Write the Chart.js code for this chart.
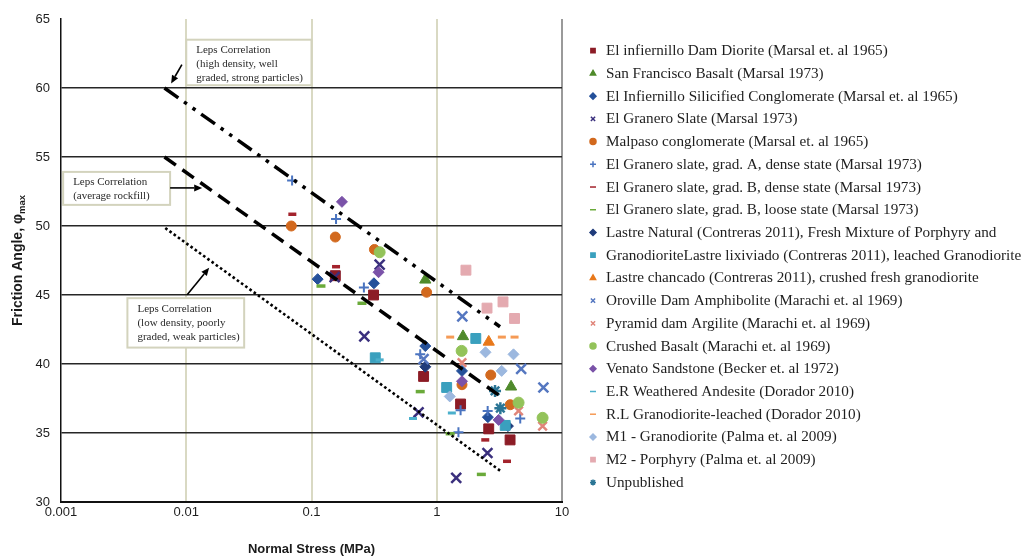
<!DOCTYPE html>
<html>
<head>
<meta charset="utf-8">
<script src="https://cdn.jsdelivr.net/npm/chart.js@4.4.1/dist/chart.umd.min.js"></script>
<style>
  html, body { margin: 0; padding: 0; background: #fff; }
  #wrap { position: relative; width: 1028px; height: 557px; }
</style>
</head>
<body>
<div id="wrap"><canvas id="c" width="1028" height="557"></canvas></div>
<script>
// Axis ticks
const xTickValues = [0.001, 0.01, 0.1, 1, 10];
const yTickValues = [30, 35, 40, 45, 50, 55, 60, 65];

// Test series names
const seriesNames = [
  'El infiernillo Dam Diorite (Marsal et. al 1965)',
  'San Francisco Basalt (Marsal 1973)',
  'El Infiernillo Silicified Conglomerate (Marsal et. al 1965)',
  'El Granero Slate (Marsal 1973)',
  'Malpaso conglomerate (Marsal et. al 1965)',
  'El Granero slate, grad. A, dense state (Marsal 1973)',
  'El Granero slate, grad. B, dense state (Marsal 1973)',
  'El Granero slate, grad. B, loose state (Marsal 1973)',
  'Lastre Natural (Contreras 2011), Fresh Mixture of Porphyry and',
  'GranodioriteLastre lixiviado (Contreras 2011), leached Granodiorite',
  'Lastre chancado (Contreras 2011), crushed fresh granodiorite',
  'Oroville Dam Amphibolite (Marachi et. al 1969)',
  'Pyramid dam Argilite (Marachi et. al 1969)',
  'Crushed Basalt (Marachi et. al 1969)',
  'Venato Sandstone (Becker et. al 1972)',
  'E.R Weathered Andesite (Dorador 2010)',
  'R.L Granodiorite-leached (Dorador 2010)',
  'M1 - Granodiorite (Palma et. al 2009)',
  'M2 - Porphyry (Palma et. al 2009)',
  'Unpublished'
];

// Test results: [normal stress (MPa), peak friction angle (deg)]
const elInfiernilloDiorite   = [[0.155, 46.4], [0.313, 45.0], [0.785, 39.1], [1.55, 37.1], [2.6, 35.3], [3.85, 34.5]];
const sanFranciscoBasalt     = [[0.81, 46.1], [1.62, 42.0], [3.92, 38.35]];
const silicifiedConglomerate = [[0.112, 46.15], [0.315, 45.85], [0.81, 41.3], [1.59, 39.5], [2.56, 36.15]];
const elGraneroSlate         = [[0.153, 46.3], [0.35, 47.2], [0.264, 42.0], [0.716, 36.5], [1.43, 31.75], [2.54, 33.55]];
const malpasoConglomerate    = [[0.069, 50.0], [0.155, 49.2], [0.318, 48.3], [0.83, 45.2], [1.59, 38.5], [2.7, 39.2], [3.86, 37.05]];
const graneroGradADense      = [[0.07, 53.3], [0.157, 50.5], [0.262, 45.55], [0.738, 40.7], [1.55, 36.65], [1.49, 35.05], [2.55, 36.6], [4.64, 36.05]];
const graneroGradBDense      = [[0.0703, 50.85], [0.157, 47.05], [2.44, 34.5], [3.64, 32.95]];
const graneroGradBLoose      = [[0.119, 45.65], [0.253, 44.4], [0.738, 38.0], [1.28, 34.95], [2.27, 32.0]];
const lastreNatural          = [[0.81, 39.8], [3.7, 35.5]];
const lastreLixiviado        = [[0.323, 40.45], [1.2, 38.3], [2.05, 41.85], [3.52, 35.55]];
const lastreChancado         = [[2.6, 41.6]];
const orovilleAmphibolite    = [[0.785, 40.35], [1.6, 43.45], [4.72, 39.65], [7.1, 38.3]];
const pyramidArgilite        = [[1.59, 40.1], [4.5, 36.6], [7.0, 35.5]];
const crushedBasalt          = [[0.35, 48.1], [1.58, 40.95], [4.5, 37.2], [7.0, 36.1]];
const venatoSandstone        = [[0.175, 51.75], [0.343, 46.65], [1.59, 38.75], [3.12, 35.95]];
const erWeatheredAndesite    = [[0.35, 40.3], [0.646, 36.05], [1.32, 36.45]];
const rlGranodioriteLeached  = [[1.28, 41.95], [3.31, 41.95], [4.18, 41.95]];
const m1Granodiorite         = [[1.27, 37.65], [2.45, 40.85], [4.1, 40.7], [3.3, 39.5]];
const m2Porphyry             = [[1.71, 46.8], [2.52, 44.05], [3.38, 44.5], [4.18, 43.3]];
const unpublished            = [[2.92, 38.05], [3.22, 36.8]];

// Leps (1970) correlation bounds: [stress, angle] end points
const lepsHigh    = [[0.0067, 60.0], [3.2, 42.7]];
const lepsAverage = [[0.0067, 55.0], [3.35, 37.55]];
const lepsLow     = [[0.0068, 49.85], [3.32, 32.17]];

const seriesValues = [
  elInfiernilloDiorite, sanFranciscoBasalt, silicifiedConglomerate, elGraneroSlate,
  malpasoConglomerate, graneroGradADense, graneroGradBDense, graneroGradBLoose,
  lastreNatural, lastreLixiviado, lastreChancado, orovilleAmphibolite,
  pyramidArgilite, crushedBasalt, venatoSandstone, erWeatheredAndesite,
  rlGranodioriteLeached, m1Granodiorite, m2Porphyry, unpublished
];

// marker look per series: [style, colour, radius, line width]
const markerStyles = [
  ['rect',     '#8c1c26', 7,   1],
  ['triangle', '#4f8a2b', 6.5, 1],
  ['rectRot',  '#24509a', 5.5, 1],
  ['crossRot', '#3a2f7d', 7,   2.5],
  ['circle',   '#d2691e', 5,   1],
  ['cross',    '#4a74c0', 5,   2],
  ['line',     '#a3232c', 4,   3.5],
  ['line',     '#6aaa3a', 4.5, 3.5],
  ['rectRot',  '#1f3b7a', 5.5, 1],
  ['rect',     '#3aa0be', 7,   1],
  ['triangle', '#e8781a', 6.5, 1],
  ['crossRot', '#5577c0', 7,   2.5],
  ['crossRot', '#e0857a', 6,   2.5],
  ['circle',   '#93c35a', 5.5, 1],
  ['rectRot',  '#7a52a8', 5.5, 1],
  ['line',     '#4bb0cc', 4,   3],
  ['line',     '#f59a55', 4,   3],
  ['rectRot',  '#9cb8df', 5.5, 1],
  ['rect',     '#e4aab0', 7,   1],
  ['star',     '#2a7595', 6,   2.5]
];

const toPoints = arr => arr.map(p => ({ x: p[0], y: p[1] }));

// later series are painted over earlier ones
const datasets = seriesValues.map((vals, i) => {
  const [style, col, r, bw] = markerStyles[i];
  return {
    label: seriesNames[i],
    data: toPoints(vals),
    order: -i,
    pointStyle: style,
    pointRadius: r,
    pointHoverRadius: r,
    pointBorderWidth: bw,
    backgroundColor: col,
    borderColor: col,
    showLine: false
  };
});

const lepsLine = (vals, dash, width) => ({
  label: 'leps',
  data: toPoints(vals),
  order: -100,
  showLine: true,
  borderColor: '#000',
  borderWidth: width,
  borderDash: dash,
  borderCapStyle: 'butt',
  pointRadius: 0,
  fill: false
});
datasets.push(lepsLine(lepsHigh, [17, 7, 3.5, 7, 3.5, 7], 3.5));
datasets.push(lepsLine(lepsAverage, [14, 8], 3.5));
datasets.push(lepsLine(lepsLow, [2.6, 2.6], 2.6));

// Callout boxes (data coordinates of the box corners) and their text
const callouts = [
  { x0: 0.01, x1: 0.1, y0: 63.5, y1: 60.2,
    lines: ['Leps Correlation', '(high density, well', 'graded, strong particles)'] },
  { x0: 0.00104, x1: 0.00743, y0: 53.92, y1: 51.53,
    lines: ['Leps Correlation', '(average rockfill)'] },
  { x0: 0.00339, x1: 0.029, y0: 44.77, y1: 41.19,
    lines: ['Leps Correlation', '(low density, poorly', 'graded, weak particles)'] }
];
// Arrows from each callout to its line: [tailX, tailY, headX, headY]
const calloutArrows = [
  [0.00923, 61.7, 0.00757, 60.33],
  [0.00743, 52.76, 0.0134, 52.76],
  [0.01017, 45.02, 0.01524, 46.98]
];

const calloutPlugin = {
  id: 'callouts',
  beforeDatasetsDraw(chart) {
    const { ctx, scales: { x, y } } = chart;
    ctx.save();
    callouts.forEach(c => {
      const l = x.getPixelForValue(c.x0), r = x.getPixelForValue(c.x1);
      const t = y.getPixelForValue(c.y0), b = y.getPixelForValue(c.y1);
      ctx.fillStyle = '#fff';
      ctx.fillRect(l, t, r - l, b - t);
      ctx.strokeStyle = '#d3d3bd';
      ctx.lineWidth = 2;
      ctx.strokeRect(l, t, r - l, b - t);
      ctx.fillStyle = '#2a2a2a';
      ctx.font = '11px "Liberation Serif", "Times New Roman", serif';
      ctx.textBaseline = 'middle';
      ctx.textAlign = 'left';
      c.lines.forEach((txt, k) => ctx.fillText(txt, l + 10, t + 10.5 + k * 14.2));
    });
    ctx.restore();
  },
  afterDatasetsDraw(chart) {
    const { ctx, scales: { x, y } } = chart;
    ctx.save();
    ctx.strokeStyle = '#000';
    ctx.fillStyle = '#000';
    ctx.lineWidth = 1.6;
    calloutArrows.forEach(a => {
      const x0 = x.getPixelForValue(a[0]), y0 = y.getPixelForValue(a[1]);
      const x1 = x.getPixelForValue(a[2]), y1 = y.getPixelForValue(a[3]);
      const ang = Math.atan2(y1 - y0, x1 - x0);
      const hl = 8, hw = 3.5;
      const bx = x1 - Math.cos(ang) * hl, by = y1 - Math.sin(ang) * hl;
      ctx.beginPath();
      ctx.moveTo(x0, y0);
      ctx.lineTo(bx, by);
      ctx.stroke();
      ctx.beginPath();
      ctx.moveTo(x1, y1);
      ctx.lineTo(bx - Math.sin(ang) * hw, by + Math.cos(ang) * hw);
      ctx.lineTo(bx + Math.sin(ang) * hw, by - Math.cos(ang) * hw);
      ctx.closePath();
      ctx.fill();
    });
    ctx.restore();
  }
};

// Axis titles (the y title carries a subscript)
const axisTitlePlugin = {
  id: 'axisTitles',
  afterDraw(chart) {
    const { ctx, chartArea: ca } = chart;
    ctx.save();
    ctx.fillStyle = '#1a1a1a';
    ctx.textBaseline = 'middle';
    ctx.textAlign = 'center';
    ctx.font = 'bold 13px "Liberation Sans", Arial, sans-serif';
    ctx.fillText('Normal Stress (MPa)', (ca.left + ca.right) / 2, 549);

    const main = 'Friction Angle, \u03c6';
    const sub = 'max';
    const mainFont = 'bold 14px "Liberation Sans", Arial, sans-serif';
    const subFont = 'bold 9.5px "Liberation Sans", Arial, sans-serif';
    ctx.font = mainFont;
    const wMain = ctx.measureText(main).width;
    ctx.font = subFont;
    const wSub = ctx.measureText(sub).width;
    const total = wMain + wSub;
    ctx.translate(18.5, (ca.top + ca.bottom) / 2);
    ctx.rotate(-Math.PI / 2);
    ctx.textAlign = 'left';
    ctx.font = mainFont;
    ctx.fillText(main, -total / 2, 0);
    ctx.font = subFont;
    ctx.fillText(sub, -total / 2 + wMain, 4);
    ctx.restore();
  }
};

// Legend listed down the right-hand side
const sideLegendPlugin = {
  id: 'sideLegend',
  afterDraw(chart) {
    const ctx = chart.ctx;
    ctx.save();
    ctx.textBaseline = 'middle';
    ctx.textAlign = 'left';
    seriesNames.forEach((name, i) => {
      const ds = chart.data.datasets[i];
      const yy = 50.7 + i * 22.72;
      ctx.fillStyle = ds.backgroundColor;
      ctx.strokeStyle = ds.borderColor;
      ctx.lineWidth = 1.5;
      Chart.helpers.drawPoint(ctx, { pointStyle: ds.pointStyle, radius: 3, rotation: 0, borderWidth: 1.5 }, 593, yy);
      ctx.fillStyle = '#1e1e1e';
      ctx.font = '15.2px "Liberation Serif", "Times New Roman", serif';
      ctx.fillText(name, 606, yy + 0.5);
    });
    ctx.restore();
  }
};

new Chart(document.getElementById('c'), {
  type: 'scatter',
  data: { datasets },
  options: {
    responsive: false,
    animation: false,
    events: [],
    layout: { padding: { left: 0, right: 466, top: 19, bottom: 0 } },
    plugins: { legend: { display: false }, tooltip: { enabled: false } },
    scales: {
      x: {
        type: 'logarithmic',
        min: xTickValues[0],
        max: xTickValues[xTickValues.length - 1],
        afterBuildTicks: s => { s.ticks = xTickValues.map(v => ({ value: v })); },
        afterFit: s => { s.height = 55; },
        ticks: {
          autoSkip: false, maxRotation: 0, padding: 3, color: '#1e1e1e',
          font: { family: '"Liberation Sans", Arial, sans-serif', size: 13 },
          callback: v => String(v)
        },
        grid: {
          drawTicks: false,
          color: c => {
            const v = c.tick && c.tick.value;
            if (v === 10) return '#9a9a9a';
            if (v === 0.001) return 'rgba(0,0,0,0)';
            return '#d9d9c3';
          },
          lineWidth: 2
        },
        border: { color: '#111', width: 2 }
      },
      y: {
        min: yTickValues[0],
        max: yTickValues[yTickValues.length - 1],
        afterBuildTicks: s => { s.ticks = yTickValues.map(v => ({ value: v })); },
        afterFit: s => { s.width = 61; },
        ticks: {
          padding: 11, color: '#1e1e1e',
          font: { family: '"Liberation Sans", Arial, sans-serif', size: 13 }
        },
        grid: {
          drawTicks: false,
          color: c => (c.tick && c.tick.value === 65) ? 'rgba(0,0,0,0)' : '#262626',
          lineWidth: 1.5
        },
        border: { color: '#111', width: 1.5 }
      }
    }
  },
  plugins: [calloutPlugin, axisTitlePlugin, sideLegendPlugin]
});
</script>
</body>
</html>
